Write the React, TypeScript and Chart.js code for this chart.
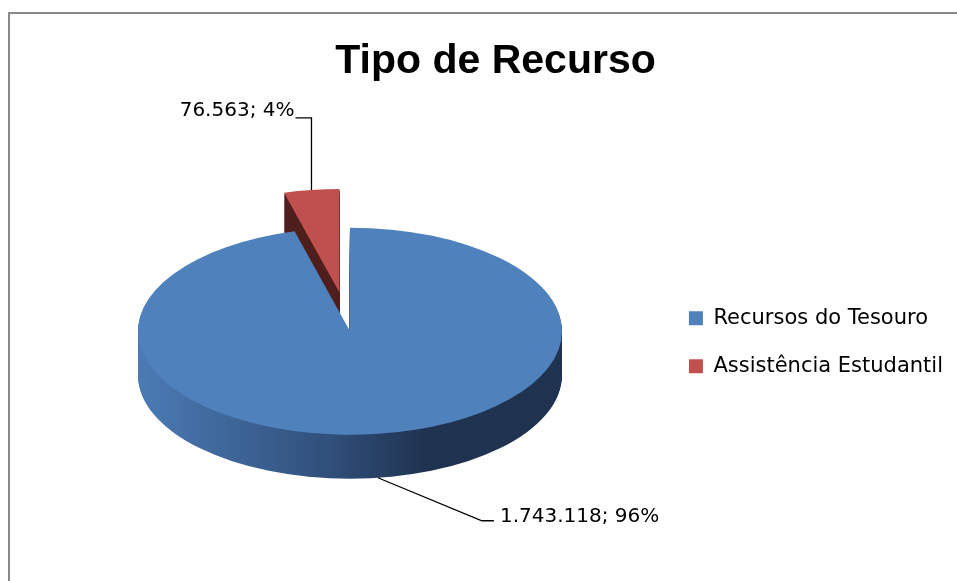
import React, { useEffect, useRef } from 'react';
import { Chart, registerables } from 'chart.js';

Chart.register(...registerables);

// ---- data ----
const categories = ['Recursos do Tesouro', 'Assistência Estudantil'];
const values = [1743118, 76563];
const topColors = ['#4F81BD', '#C0504D'];
const explodeOffsets = [0, 80];

const titleText = 'Tipo de Recurso';

function fmt(n: number): string {
  return String(n).replace(/\B(?=(\d{3})+(?!\d))/g, '.');
}

const pie3d = {
  id: 'pie3d',
  beforeDatasetsDraw(chart: any, _args: any, opts: any) {
    const ctx: CanvasRenderingContext2D = chart.ctx;
    const meta = chart.getDatasetMeta(0);
    const arcs = meta.data as any[];
    if (!arcs.length) return false;
    const { tilt, depth, lift, explode } = opts;
    const cx = arcs[0].x;
    const cy = arcs[0].y;
    const R = arcs[0].outerRadius;

    const grad = ctx.createLinearGradient(cx - R, 0, cx + R, 0);
    grad.addColorStop(0, '#4B7BB5');
    grad.addColorStop(0.45, '#304F7A');
    grad.addColorStop(0.68, '#1F3350');
    grad.addColorStop(1, '#1F3350');
    const sideFills = [grad, '#4F1F1E'];

    ctx.save();
    ctx.translate(0, -lift);
    ctx.translate(cx, cy);
    ctx.scale(1, tilt);
    ctx.translate(-cx, -cy);

    const order = arcs
      .map((a, i) => i)
      .sort((a, b) => {
        const ma = (arcs[a].startAngle + arcs[a].endAngle) / 2;
        const mb = (arcs[b].startAngle + arcs[b].endAngle) / 2;
        return Math.sin(ma) - Math.sin(mb);
      });

    for (const i of order) {
      const arc = arcs[i];
      const mid = (arc.startAngle + arc.endAngle) / 2;
      const e = explode[i] || 0;
      const dx = Math.cos(mid) * e;
      const dy = Math.sin(mid) * e;
      ctx.fillStyle = sideFills[i] as any;
      for (let d = depth; d > 0; d -= 1) {
        const ox = arc.x + dx;
        const oy = arc.y + dy + d / tilt;
        ctx.beginPath();
        ctx.moveTo(ox, oy);
        ctx.arc(ox, oy, arc.outerRadius, arc.startAngle, arc.endAngle);
        ctx.closePath();
        ctx.fill();
      }
      ctx.save();
      ctx.translate(dx, dy);
      arc.draw(ctx, chart.chartArea);
      ctx.restore();
    }
    ctx.restore();
    return false;
  },
  afterDraw(chart: any, _args: any, opts: any) {
    const ctx: CanvasRenderingContext2D = chart.ctx;
    const meta = chart.getDatasetMeta(0);
    const arcs = meta.data as any[];
    if (!arcs.length) return;
    const { tilt, depth, lift, explode, labels } = opts;
    const cy = arcs[0].y;
    const data = chart.data.datasets[0].data as number[];
    const total = data.reduce((s, v) => s + v, 0);
    ctx.save();
    ctx.font = '20px "DejaVu Sans"';
    ctx.fillStyle = '#000';
    ctx.strokeStyle = '#000';
    ctx.lineWidth = 1.3;
    arcs.forEach((arc, i) => {
      const mid = (arc.startAngle + arc.endAngle) / 2;
      const e = explode[i] || 0;
      const px = arc.x + Math.cos(mid) * (e + arc.outerRadius);
      const py = arc.y + Math.sin(mid) * (e + arc.outerRadius);
      const L = labels[i];
      const ax = px;
      let ay = cy + (py - cy) * tilt - lift;
      if (L.anchor === 'bottom') ay += depth;
      const ex = ax + L.elbowDx;
      const ey = ay + L.elbowDy;
      const fx = ex + L.armDx;
      ctx.beginPath();
      ctx.moveTo(ax, ay);
      ctx.lineTo(ex, ey);
      ctx.lineTo(fx, ey);
      ctx.stroke();
      const text = `${fmt(data[i])}; ${Math.round((data[i] / total) * 100)}%`;
      ctx.textBaseline = 'alphabetic';
      if (L.armDx < 0) {
        ctx.textAlign = 'right';
        ctx.fillText(text, fx - 1, ey - 2);
      } else {
        ctx.textAlign = 'left';
        ctx.fillText(text, fx + 6, ey + 1);
      }
    });
    ctx.restore();
  },
};

export default function App() {
  const ref = useRef<HTMLCanvasElement | null>(null);

  useEffect(() => {
    if (!ref.current) return;
    const chart = new Chart(ref.current, {
      type: 'pie',
      data: {
        labels: categories,
        datasets: [
          {
            data: values,
            backgroundColor: topColors,
            borderWidth: 0,
            radius: 212,
            clip: false,
          } as any,
        ],
      },
      options: {
        responsive: false,
        animation: false,
        events: [],
        layout: { padding: { left: 38, right: 26, top: 0, bottom: 0 } },
        plugins: {
          title: {
            display: true,
            text: titleText,
            color: '#000',
            font: { family: '"Liberation Sans", Arial, sans-serif', size: 41, weight: 'bold', lineHeight: 1.2 },
            padding: { top: 37.4, bottom: 16.8 },
          },
          legend: {
            position: 'right',
            fullSize: false,
            labels: {
              boxWidth: 14,
              boxHeight: 14,
              padding: 27,
              color: '#000',
              font: { family: '"DejaVu Sans"', size: 21 },
            },
          },
          tooltip: { enabled: false },
          pie3d: {
            tilt: 0.488,
            depth: 44,
            lift: 11,
            explode: explodeOffsets,
            labels: [
              { anchor: 'bottom', elbowDx: 104, elbowDy: 43, armDx: 12 },
              { anchor: 'top', elbowDx: 0, elbowDy: -72, armDx: -16 },
            ],
          },
        } as any,
      },
      plugins: [pie3d as any],
    });
    return () => chart.destroy();
  }, []);

  return (
    <div style={{ position: 'fixed', left: 0, top: 0, width: 957, height: 581, overflow: 'hidden', background: '#fff' }}>
      <div
        style={{
          position: 'absolute',
          left: 8,
          top: 12,
          width: 2000,
          height: 2000,
          borderLeft: '2px solid #898989',
          borderTop: '2px solid #898989',
        }}
      />
      <canvas
        ref={ref}
        width={979}
        height={581}
        style={{ position: 'absolute', left: 0, top: 0, width: 979, height: 581, display: 'block' }}
      />
    </div>
  );
}
